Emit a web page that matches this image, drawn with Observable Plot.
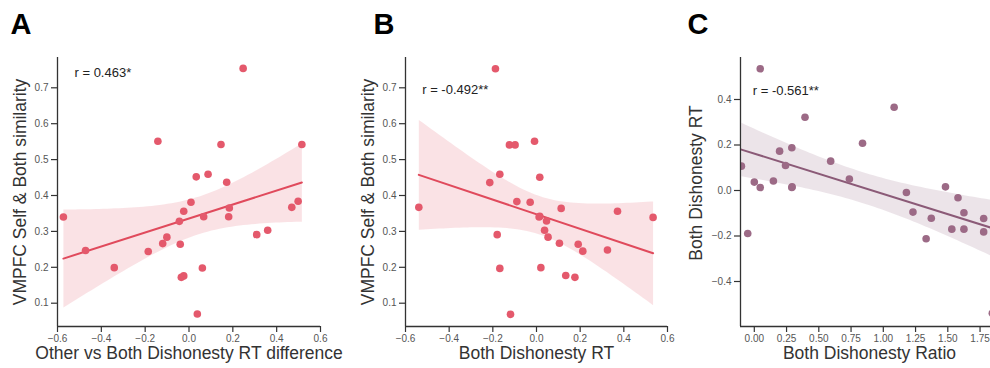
<!DOCTYPE html>
<html><head><meta charset="utf-8">
<script src="https://cdn.jsdelivr.net/npm/d3@7"></script>
<script src="https://cdn.jsdelivr.net/npm/@observablehq/plot@0.6"></script>
<style>
html,body{margin:0;padding:0;background:#fff;}
#wrap{position:relative;width:990px;height:368px;overflow:hidden;background:#fff;}
#wrap svg{position:absolute;top:0;}
</style></head><body><div id="wrap"></div>
<script>
// Panel A: Other vs Both Dishonesty RT difference vs VMPFC similarity
const rtDiffA = [-0.573,-0.472,-0.341,-0.186,-0.142,-0.120,-0.101,-0.044,-0.040,-0.024,-0.035,-0.024,0.009,0.033,0.038,0.061,0.067,0.087,0.146,0.172,0.181,0.184,0.247,0.309,0.359,0.469,0.498,0.515];
const simA    = [0.340,0.247,0.199,0.244,0.551,0.266,0.284,0.328,0.264,0.356,0.172,0.176,0.381,0.452,0.070,0.198,0.341,0.459,0.542,0.437,0.341,0.365,0.754,0.291,0.303,0.367,0.384,0.542];
// Panel B: Both Dishonesty RT vs VMPFC similarity
const bothRtB = [-0.539,-0.214,-0.188,-0.180,-0.168,-0.168,-0.124,-0.119,-0.098,-0.090,-0.029,-0.009,0.015,0.015,0.012,0.020,0.037,0.046,0.053,0.105,0.113,0.134,0.176,0.191,0.212,0.325,0.371,0.534];
const simB    = [0.367,0.436,0.753,0.291,0.459,0.197,0.541,0.069,0.541,0.383,0.381,0.551,0.451,0.342,0.340,0.199,0.303,0.329,0.284,0.267,0.364,0.177,0.172,0.264,0.245,0.248,0.356,0.339];
// Panel C: Both Dishonesty Ratio vs Both Dishonesty RT
const ratioC  = [-0.100,-0.051,0.000,0.046,0.046,0.148,0.196,0.242,0.291,0.291,0.293,0.393,0.592,0.737,0.839,1.084,1.179,1.230,1.372,1.332,1.482,1.531,1.579,1.625,1.625,1.778,1.778,1.845];
const bothRtC = [0.107,-0.189,0.037,0.535,0.013,0.042,0.173,0.110,0.188,0.013,0.016,0.322,0.129,0.050,0.208,0.366,-0.009,-0.095,-0.122,-0.212,0.016,-0.170,-0.032,-0.098,-0.170,-0.123,-0.182,-0.540];

const xTicksAB = [-0.6,-0.4,-0.2,0.0,0.2,0.4,0.6];
const yTicksAB = [0.1,0.2,0.3,0.4,0.5,0.6,0.7];
const xTicksC  = [0.00,0.25,0.50,0.75,1.00,1.25,1.50,1.75];
const yTicksC  = [-0.4,-0.2,0.0,0.2,0.4];

const letters = ["A","B","C"];
const rLabels = ["r = 0.463*","r = -0.492**","r = -0.561**"];
const xLabels = ["Other vs Both Dishonesty RT difference","Both Dishonesty RT","Both Dishonesty Ratio"];
const yLabels = ["VMPFC Self & Both similarity","VMPFC Self & Both similarity","Both Dishonesty RT"];

const FONT = "'Liberation Sans', Arial, Helvetica, sans-serif";
const AXIS = "#333333", TICK = "#555555", LABEL = "#333333";
const RED_DOT = "#e4596c", RED_LINE = "#e04a5c";
const MAUVE_DOT = "#9c6a86", MAUVE_LINE = "#8b5a77";

function panel(o) {
  const data = o.xs.map((x, i) => ({x, y: o.ys[i]}));
  const svg = Plot.plot({
    width: o.width, height: 368,
    marginLeft: o.marginLeft, marginRight: o.marginRight, marginTop: 57, marginBottom: 42,
    style: {fontFamily: FONT, background: "transparent", overflow: "visible"},
    x: {domain: o.xDomain, axis: null},
    y: {domain: o.yDomain, axis: null},
    marks: [
      Plot.linearRegressionY(data, {x: "x", y: "y", stroke: o.line, fill: o.line, fillOpacity: 0.16, strokeWidth: 2, ci: 0.95}),
      Plot.dot(data, {x: "x", y: "y", r: 3.8, fill: o.dot, clip: true}),
      Plot.ruleX([o.xDomain[0]], {stroke: AXIS, strokeWidth: 1.3}),
      Plot.ruleY([o.yDomain[0]], {stroke: AXIS, strokeWidth: 1.3}),
      Plot.axisX({ticks: o.xTicks, tickFormat: d3.format(o.xFmt), tickSize: 6, tickPadding: 2, fontSize: 10, stroke: AXIS, fill: TICK, strokeWidth: 1.2, label: null}),
      Plot.axisY({ticks: o.yTicks, tickFormat: d3.format(o.yFmt), tickSize: 6, tickPadding: 3, fontSize: 10, stroke: AXIS, fill: TICK, strokeWidth: 1.2, label: null}),
      Plot.text([o.xLabel], {text: d => d, frameAnchor: "bottom", textAnchor: "middle", lineAnchor: "bottom", dy: 32.5, fontSize: 17.5, fill: LABEL}),
      Plot.text([o.yLabel], {text: d => d, frameAnchor: "left", textAnchor: "middle", lineAnchor: "middle", rotate: -90, dx: o.yLabelDx, dy: o.yLabelDy, fontSize: 17.5, fill: LABEL}),
      Plot.text([o.rText], {text: d => d, frameAnchor: "top-left", textAnchor: "start", lineAnchor: "bottom", dx: o.rDx, dy: o.rDy, fontSize: 13, fill: "#222"}),
      Plot.text([o.letter], {text: d => d, frameAnchor: "top-left", textAnchor: "start", lineAnchor: "bottom", dx: o.letterDx, dy: -24, fontSize: 29, fontWeight: "bold", fill: "#000"})
    ]
  });
  svg.style.left = o.left + "px";
  document.getElementById("wrap").appendChild(svg);
}

panel({xs: rtDiffA, ys: simA, xDomain: [-0.6, 0.6], yDomain: [0.0351, 0.7844], xTicks: xTicksAB, yTicks: yTicksAB,
  xFmt: ".1f", yFmt: ".1f", dot: RED_DOT, line: RED_LINE, letter: letters[0], rText: rLabels[0],
  xLabel: xLabels[0], yLabel: yLabels[0], left: 0, width: 340, marginLeft: 57, marginRight: 20,
  yLabelDx: -37.5, yLabelDy: 0, rDx: 17, rDy: 19.3, letterDx: -47});

panel({xs: bothRtB, ys: simB, xDomain: [-0.6, 0.6], yDomain: [0.0351, 0.7844], xTicks: xTicksAB, yTicks: yTicksAB,
  xFmt: ".1f", yFmt: ".1f", dot: RED_DOT, line: RED_LINE, letter: letters[1], rText: rLabels[1],
  xLabel: xLabels[1], yLabel: yLabels[1], left: 340, width: 330, marginLeft: 65, marginRight: 3,
  yLabelDx: -37, yLabelDy: 0, rDx: 16.7, rDy: 36.3, letterDx: -32});

panel({xs: ratioC, ys: bothRtC, xDomain: [-0.107, 1.893], yDomain: [-0.5978, 0.5846], xTicks: xTicksC, yTicks: yTicksC,
  xFmt: ".2f", yFmt: ".1f", dot: MAUVE_DOT, line: MAUVE_LINE, letter: letters[2], rText: rLabels[2],
  xLabel: xLabels[2], yLabel: yLabels[2], left: 660, width: 350, marginLeft: 80, marginRight: 12,
  yLabelDx: -44, yLabelDy: -9, rDx: 12.3, rDy: 37, letterDx: -53});
</script>
</body></html>
